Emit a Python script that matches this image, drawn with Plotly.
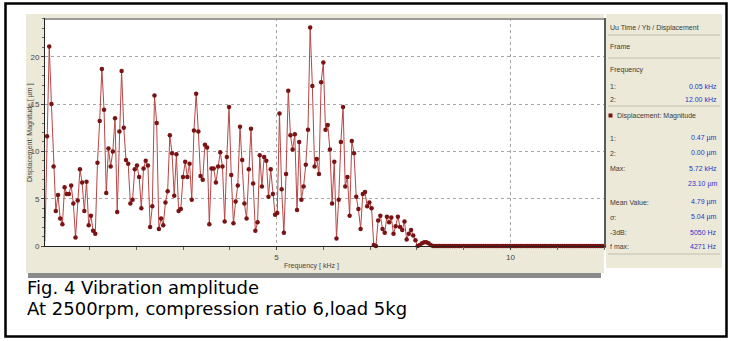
import plotly.graph_objects as go

# ---------------- data ----------------
freq_step_khz = 12.0 / 256          # spectral line spacing
amplitude_um = [
    0.47, 11.6, 21.1, 15.0, 8.4, 3.7, 5.4, 2.9, 2.3, 6.2,
    5.5, 5.5, 6.4, 4.5, 0.9, 4.8, 8.1, 6.7, 3.7, 6.8,
    2.2, 3.2, 1.6, 1.3, 8.8, 13.2, 18.7, 14.4, 5.6, 10.3,
    8.4, 10.0, 13.5, 3.6, 12.1, 18.5, 12.5, 9.1, 8.7, 4.5,
    4.9, 8.1, 8.5, 7.3, 4.0, 8.2, 9.0, 8.5, 2.0, 4.2,
    15.9, 13.0, 1.8, 2.9, 2.2, 4.6, 5.8, 11.7, 9.8, 5.3,
    9.7, 3.7, 3.9, 7.3, 8.9, 7.3, 8.7, 4.9, 12.2, 16.1,
    12.1, 7.4, 7.0, 10.7, 10.4, 2.3, 8.2, 8.2, 6.7, 8.4,
    9.9, 8.4, 2.6, 9.4, 14.7, 7.5, 2.4, 4.7, 6.4, 12.6,
    9.1, 4.5, 2.9, 8.1, 12.4, 6.6, 1.6, 2.5, 9.6, 6.3,
    9.4, 9.0, 5.2, 8.1, 5.5, 3.3, 3.5, 14.0, 6.0, 1.4,
    7.6, 16.4, 11.7, 10.2, 11.8, 3.8, 11.0, 4.9, 6.3, 8.6,
    12.3, 23.1, 16.9, 8.4, 9.2, 7.6, 17.3, 19.4, 12.3, 12.8,
    10.2, 4.5, 8.9, 0.8, 4.9, 11.0, 14.7, 6.3, 7.3, 3.2,
    11.1, 9.8, 5.2, 3.9, 1.8, 5.5, 5.7, 4.2, 4.6, 4.0,
    0.1, 0.0, 2.7, 3.2, 1.8, 1.4, 3.1, 2.5, 3.0, 1.3,
    2.1, 3.1, 2.0, 1.7, 2.6, 0.7, 1.3, 1.7, 1.1, 0.6,
    0.0, 0.1, 0.3, 0.4, 0.4, 0.3, 0.1, 0.0, 0.0, 0.0,
    0.0, 0.0, 0.0, 0.0, 0.0, 0.0, 0.0, 0.0, 0.0, 0.0,
    0.0, 0.0, 0.0, 0.0, 0.0, 0.0, 0.0, 0.0, 0.0, 0.0,
    0.0, 0.0, 0.0, 0.0, 0.0, 0.0, 0.0, 0.0, 0.0, 0.0,
    0.0, 0.0, 0.0, 0.0, 0.0, 0.0, 0.0, 0.0, 0.0, 0.0,
    0.0, 0.0, 0.0, 0.0, 0.0, 0.0, 0.0, 0.0, 0.0, 0.0,
    0.0, 0.0, 0.0, 0.0, 0.0, 0.0, 0.0, 0.0, 0.0, 0.0,
    0.0, 0.0, 0.0, 0.0, 0.0, 0.0, 0.0, 0.0, 0.0, 0.0,
    0.0, 0.0, 0.0, 0.0, 0.0, 0.0,
]
freq_khz = [round((i + 1) * freq_step_khz, 5) for i in range(len(amplitude_um))]

x_range = [0.05, 12.0]
y_range = [0, 24.1]
x_ticks = [5, 10]
y_ticks = [0, 5, 10, 15, 20]

x_title = "Frequency [ kHz ]"
y_title = "Displacement: Magnitude [ µm ]"
caption_1 = "Fig. 4 Vibration amplitude"
caption_2 = "At 2500rpm, compression ratio 6,load 5kg"

panel_header = ["Uu Time / Yb / Displacement", "Frame", "Frequency"]
freq_rows = [("1:", "0.05 kHz"), ("2:", "12.00 kHz")]
series_name = "Displacement: Magnitude"
stat_rows = [("1:", "0.47 µm"), ("2:", "0.00 µm"), ("Max:", "5.72 kHz"),
             ("", "23.10 µm"), ("Mean Value:", "4.79 µm"), ("σ:", "5.04 µm"),
             ("-3dB:", "5050 Hz"), ("f max:", "4271 Hz")]

# ---------------- layout geometry (pixels) ----------------
W, H = 729, 341
PL, PR, PT, PB = 45, 604, 18, 246


def px(x):
    return (x - PL) / (PR - PL)


def py(y):
    return (PB - y) / (PB - PT)


BEIGE = "#ECE9D8"
LINE_C = "#b84646"
MARK_C = "#7a1414"

fig = go.Figure()
fig.add_trace(go.Scatter(
    x=freq_khz, y=amplitude_um, mode="lines+markers",
    line=dict(color=LINE_C, width=1),
    marker=dict(color=MARK_C, size=4.5),
    showlegend=False, cliponaxis=False,
))

shapes = []


def rect(x0, y0, x1, y1, fill=None, line=None, lw=0, layer="below"):
    shapes.append(dict(type="rect", xref="paper", yref="paper",
                       x0=px(x0), x1=px(x1), y0=py(y1), y1=py(y0),
                       fillcolor=fill if fill else "rgba(0,0,0,0)",
                       line=dict(color=line if line else "rgba(0,0,0,0)", width=lw),
                       layer=layer))


def hline(x0, x1, y, color, lw=1, layer="below"):
    shapes.append(dict(type="line", xref="paper", yref="paper",
                       x0=px(x0), x1=px(x1), y0=py(y), y1=py(y),
                       line=dict(color=color, width=lw), layer=layer))


def vline(x, y0, y1, color, lw=1, layer="below"):
    shapes.append(dict(type="line", xref="paper", yref="paper",
                       x0=px(x), x1=px(x), y0=py(y0), y1=py(y1),
                       line=dict(color=color, width=lw), layer=layer))


# chart panel, plot area, bottom bar, right panel
rect(26, 14, 604, 273, fill=BEIGE)
rect(PL, PT, PR, PB, fill="white")
rect(28, 273, 601, 278, fill="#8a8a8a")
rect(606, 14, 722, 268, fill=BEIGE)
for ys in [35, 58, 106, 254]:
    hline(608, 720, ys, "#c2bfae", 1)
# plot borders
hline(PL, PR + 1, PT + 1, "#9a9a9a", 2, layer="above")
vline(PR + 1, PT, PB, "#5a5a5a", 2, layer="above")
# outer frame
rect(5.5, 3.5, 726.5, 336.5, line="black", lw=2.5, layer="above")
# legend marker square
rect(608.5, 113.5, 612.5, 117.5, fill=MARK_C, layer="above")

annotations = []


def text(x, y, s, anchor="left", color="#333333", size=7, family="Liberation Sans",
         angle=0):
    annotations.append(dict(xref="paper", yref="paper", x=px(x), y=py(y), text=s,
                            showarrow=False, xanchor=anchor, yanchor="middle",
                            textangle=angle, borderpad=0,
                            font=dict(family=family, size=size, color=color)))


LBL = "#3a3a3a"
VAL = "#2a35c8"
text(609, 28, panel_header[0], color=LBL)
text(609, 47, panel_header[1], color=LBL)
text(609, 70, panel_header[2], color=LBL)
for (lab, val), yy in zip(freq_rows, [86, 99]):
    text(609, yy, lab, color=LBL)
    text(718, yy, val, anchor="right", color=VAL)
text(616, 116, series_name, color=LBL)
for (lab, val), yy in zip(stat_rows, [138, 153, 168, 184, 202, 217, 232, 247]):
    if lab:
        text(609, yy, lab, color=LBL)
    text(718, yy, val, anchor="right", color=VAL)

# axis titles
text(311, 266, x_title, anchor="center", color="#444444", size=7)
text(30, 133, y_title, anchor="center", color="#444444", size=7, angle=-90)

# caption
text(26, 287.5, caption_1, color="black", size=18, family="DejaVu Sans")
text(26, 308.5, caption_2, color="black", size=18, family="DejaVu Sans")

fig.update_layout(
    width=W, height=H,
    margin=dict(l=PL, r=W - PR, t=PT, b=H - PB, pad=0),
    paper_bgcolor="white", plot_bgcolor="rgba(0,0,0,0)",
    shapes=shapes, annotations=annotations,
    xaxis=dict(range=x_range, tickvals=x_ticks, ticktext=[str(v) for v in x_ticks],
               showgrid=True, gridcolor="#a8a8a8", griddash="dot", gridwidth=1,
               zeroline=False, showline=True, linecolor="#222222", linewidth=1,
               ticks="outside", ticklen=3, tickcolor="#444444",
               minor=dict(dtick=1, tick0=0, ticks="outside", ticklen=3,
                          tickcolor="#666666", showgrid=False),
               tickfont=dict(family="Liberation Sans", size=8, color="#444444")),
    yaxis=dict(range=y_range, tickvals=y_ticks, ticktext=[str(v) for v in y_ticks],
               showgrid=True, gridcolor="#a8a8a8", griddash="dot", gridwidth=1,
               zeroline=False, showline=True, linecolor="#222222", linewidth=1,
               ticks="outside", ticklen=3, tickcolor="#444444",
               minor=dict(dtick=1, tick0=0, ticks="outside", ticklen=2,
                          tickcolor="#666666", showgrid=False),
               tickfont=dict(family="Liberation Sans", size=8, color="#444444")),
)

fig.write_html("out.html")
